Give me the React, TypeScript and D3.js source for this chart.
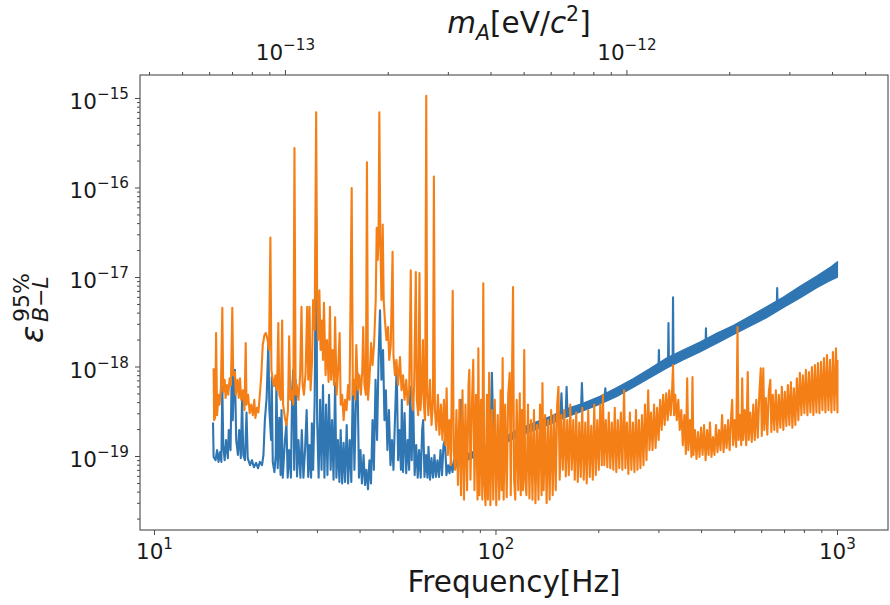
import React, { useEffect, useRef } from "react";
import * as d3 from "d3";

const W = 890;
const H = 605;
const FONT = "DejaVu Sans, Verdana, sans-serif";
const H_EV = 4.135667e-15; // Planck constant in eV s, m_A c^2 = h f

const BLUE = "#2f76b3";
const ORANGE = "#f57f17";

// tick positions / labels
const xMajorTicks = [10, 100, 1000];
const xTickExp = ["1", "2", "3"];
const yMajorTicks = [1e-15, 1e-16, 1e-17, 1e-18, 1e-19];
const yTickExp = ["\u221215", "\u221216", "\u221217", "\u221218", "\u221219"];
const mMajorTicks = [1e-13, 1e-12];
const mTickExp = ["\u221213", "\u221212"];

// blue curve (15 Hz .. 1 kHz)
const blueLine: [number, number][] = [
  [14.84, 2.4e-19], [14.9, 9.9e-20], [15.1, 9.1e-20], [15.25, 1.18e-19], [15.4, 8.7e-20], [15.55, 1.12e-19], [15.7, 8.7e-20], [15.8, 6.0e-19], [15.9, 1.34e-19], [16.05, 9.1e-20],
  [16.2, 1.53e-19], [16.4, 9.6e-20], [16.5, 1.98e-19], [16.7, 1.18e-19], [16.85, 1.11e-18], [16.95, 2.55e-19], [17.1, 7.2e-19], [17.2, 9.3e-19], [17.35, 1.53e-19], [17.55, 1.04e-19],
  [17.7, 1.98e-19], [17.9, 9.6e-20], [18.05, 4.6e-19], [18.2, 1.04e-19], [18.4, 9.1e-20], [18.6, 3.1e-19], [18.75, 9.6e-20], [19.05, 8.0e-20], [19.3, 9.1e-20], [19.55, 7.6e-20],
  [19.85, 8.5e-20], [20.1, 7.4e-20], [20.35, 8.7e-20], [20.65, 8.0e-20], [20.85, 1.04e-19], [21.05, 2.55e-19], [21.3, 4.5e-19], [21.55, 1.85e-18], [21.7, 3.3e-19], [21.95, 1.53e-19],
  [22.05, 7.7e-19], [22.2, 8.7e-20], [22.45, 6.7e-20], [22.65, 1.04e-19], [22.75, 7.2e-19], [22.95, 7.4e-20], [23.2, 2.7e-19], [23.4, 6.2e-20], [23.55, 3.3e-19], [23.75, 5.8e-20],
  [24.1, 1.53e-19], [24.35, 2.35e-19], [24.55, 5.8e-20], [24.8, 1.18e-19], [25.1, 5.8e-20], [25.3, 5.5e-19], [25.5, 9.3e-19], [25.65, 7.1e-20], [25.9, 7.2e-19], [26.15, 6.0e-20],
  [26.4, 1.53e-19], [26.75, 5.8e-20], [27.0, 1.98e-19], [27.3, 5.8e-20], [27.6, 1.18e-19], [27.9, 3.3e-19], [28.2, 5.9e-20], [28.45, 1.34e-19], [28.75, 5.8e-20], [28.9, 2.35e-19],
  [29.15, 7.1e-20], [29.45, 4.3e-19], [29.75, 4.8e-17], [29.95, 2.55e-19], [30.25, 5.8e-20], [30.55, 4.3e-19], [30.85, 7.1e-20], [31.15, 6.3e-19], [31.45, 5.8e-20], [31.8, 3.8e-19],
  [32.1, 6.2e-20], [32.45, 4.9e-19], [32.8, 7.1e-20], [33.1, 2.55e-19], [33.45, 5.5e-20], [33.8, 6.6e-19], [34.1, 5.8e-20], [34.45, 1.53e-19], [34.8, 5.2e-20], [35.1, 1.98e-19],
  [35.45, 5.0e-20], [35.8, 1.42e-19], [36.15, 5.2e-20], [36.55, 2.25e-19], [36.9, 5.0e-20], [37.3, 1.53e-19], [37.7, 5.2e-20], [38.1, 7.2e-19], [38.5, 7.1e-20], [38.9, 4.3e-19],
  [39.3, 8.6e-19], [39.7, 5.8e-20], [40.1, 1.18e-19], [40.5, 5.0e-20], [40.95, 1.04e-19], [41.35, 4.8e-20], [41.75, 7.1e-20], [42.2, 4.3e-20], [42.6, 9.1e-20], [43.05, 5.0e-20],
  [43.5, 2.55e-19], [43.9, 7.1e-20], [44.4, 7.2e-19], [44.85, 1.53e-19], [45.3, 1.2e-18], [45.75, 4.3e-18], [46.2, 7.2e-19], [46.7, 1.55e-18], [47.15, 2.55e-19], [47.6, 5.5e-19],
  [48.1, 1.18e-19], [48.6, 3.3e-19], [49.1, 8.0e-20], [49.6, 1.53e-19], [50.1, 7.1e-20], [50.6, 2.55e-19], [51.2, 1.0e-18], [51.7, 9.1e-20], [52.2, 1.98e-19], [52.7, 7.1e-20],
  [53.0, 4.3e-19], [53.45, 6.7e-20], [54.0, 3.05e-19], [54.6, 6.5e-20], [55.15, 1.53e-19], [55.7, 7.1e-20], [56.1, 6.0e-19], [56.65, 9.1e-20], [57.2, 4.3e-19], [57.8, 6.2e-20],
  [58.4, 1.34e-19], [59.0, 5.8e-20], [59.55, 1.18e-19], [60.2, 5.8e-20], [60.8, 1.98e-19], [61.2, 2.55e-19], [61.75, 5.9e-20], [62.4, 1.04e-19], [63.0, 5.8e-20], [63.45, 1.28e-19],
  [64.1, 5.5e-20], [64.75, 9.6e-20], [65.4, 5.8e-20], [66.05, 1.04e-19], [66.7, 5.9e-20], [67.4, 9.1e-20], [68.1, 5.9e-20], [68.8, 1.18e-19], [69.5, 6.2e-20], [70.2, 1.34e-19],
  [70.9, 1.53e-19], [71.6, 6.2e-20], [72.4, 8.0e-20], [73.1, 6.5e-20], [73.8, 8.7e-20], [74.6, 6.7e-20], [75.3, 9.1e-20], [76.1, 7.4e-20], [76.9, 9.6e-20], [77.7, 7.8e-20],
  [78.5, 1.04e-19], [79.0, 4.3e-19], [79.6, 8.7e-20],
  [84.0, 1.0e-19], [89.8, 1.12e-19], [96.1, 1.28e-19], [97.3, 8.6e-19], [98.5, 1.3e-19], [102.7, 1.45e-19], [104.0, 1.83e-19], [105.5, 1.5e-19], [109.9, 1.65e-19], [117.6, 1.9e-19],
  [128.0, 2.1e-19], [143.9, 2.55e-19], [154.5, 2.85e-19], [155.5, 5.1e-19], [156.5, 2.9e-19], [160.0, 3.0e-19], [161.0, 6.0e-19], [162.0, 3.05e-19], [177.5, 3.5e-19], [178.5, 6.6e-19],
  [179.5, 3.55e-19], [201.6, 4.3e-19], [208.0, 4.5e-19], [209.0, 5.8e-19], [210.0, 4.55e-19], [226.0, 5.3e-19], [252.0, 6.6e-19], [282.5, 8.6e-19], [299.0, 9.5e-19], [300.0, 1.55e-18],
  [301.0, 9.7e-19], [316.0, 1.1e-18], [319.0, 1.12e-18], [320.0, 3.1e-18], [321.0, 1.13e-18], [329.0, 1.18e-18], [330.0, 6.0e-18], [331.0, 1.19e-18], [353.0, 1.36e-18], [395.7, 1.67e-18],
  [411.0, 1.8e-18], [412.0, 2.7e-18], [413.0, 1.82e-18], [444.0, 2.1e-18], [495.0, 2.6e-18], [554.0, 3.2e-18], [620.0, 4.0e-18], [664.0, 4.5e-18], [666.0, 7.6e-18], [668.0, 4.6e-18],
  [693.0, 5.2e-18], [777.0, 6.8e-18], [870.0, 8.9e-18], [950.0, 1.1e-17], [1000, 1.22e-17],
];

// spread of the dense blue trace above ~80 Hz: [freq, low, high]
const blueBand: [number, number, number][] = [
  [78.5, 8.5e-20, 9.9e-20], [84.0, 9.4e-20, 1.1e-19], [89.8, 1.04e-19, 1.21e-19], [96.1, 1.17e-19, 1.38e-19], [102.7, 1.32e-19, 1.58e-19],
  [109.9, 1.51e-19, 1.8e-19], [117.6, 1.73e-19, 2.07e-19], [128, 1.93e-19, 2.35e-19], [143.9, 2.3e-19, 2.8e-19], [160.5, 2.75e-19, 3.4e-19],
  [179, 3.2e-19, 3.9e-19], [201.6, 3.85e-19, 4.7e-19], [226, 4.7e-19, 5.9e-19], [252, 5.9e-19, 7.4e-19], [282.5, 7.6e-19, 9.6e-19],
  [316, 9.7e-19, 1.26e-18], [353, 1.2e-18, 1.55e-18], [395.7, 1.47e-18, 1.9e-18], [444, 1.85e-18, 2.4e-18], [495, 2.3e-18, 2.9e-18],
  [554, 2.85e-18, 3.7e-18], [620, 3.55e-18, 4.7e-18], [693, 4.6e-18, 6.0e-18], [777, 5.9e-18, 8.0e-18], [870, 7.7e-18, 1.04e-17],
  [950, 9.2e-18, 1.29e-17], [1000, 1.01e-17, 1.5e-17],
];

// orange curve (15 Hz .. 1 kHz)
const orangeLine: [number, number][] = [
  [14.9, 9.7e-19], [14.95, 2.55e-19], [15.05, 2.7e-19], [15.15, 2.4e-18], [15.25, 2.9e-19], [15.4, 4.9e-19], [15.5, 3.8e-19], [15.65, 5.8e-19], [15.8, 4.6e-18], [15.9, 5.3e-19],
  [16.05, 7.2e-19], [16.15, 4.5e-19], [16.3, 6.3e-19], [16.45, 4.9e-19], [16.6, 7.5e-19], [16.75, 6.3e-19], [16.9, 4.6e-18], [17.0, 8.1e-19], [17.2, 8.8e-19], [17.3, 4.9e-19],
  [17.5, 7.2e-19], [17.65, 4.5e-19], [17.8, 7.5e-19], [17.95, 4.3e-19], [18.15, 5.5e-19], [18.35, 3.3e-19], [18.5, 1.85e-18], [18.6, 3.8e-19], [18.8, 4.9e-19], [19.0, 3.05e-19],
  [19.2, 3.8e-19], [19.4, 2.9e-19], [19.6, 4.3e-19], [19.75, 2.7e-19], [19.95, 3.5e-19], [20.15, 3.1e-19], [20.35, 4.9e-19], [20.55, 8.1e-19], [20.75, 1.76e-18], [21.0, 2.3e-18],
  [21.2, 2.4e-18], [21.45, 2.0e-18], [21.65, 1.55e-18], [21.85, 2.8e-17], [22.0, 9.3e-19], [22.2, 7.2e-19], [22.4, 6.1e-19], [22.6, 8.1e-19], [22.85, 5.5e-19], [23.05, 3.1e-18],
  [23.2, 4.9e-19], [23.45, 4.3e-19], [23.65, 3.3e-18], [23.8, 3.8e-19], [24.1, 2.7e-19], [24.35, 2.25e-19], [24.6, 3.3e-19], [24.8, 2.2e-18], [25.0, 4.3e-19], [25.25, 5.5e-19],
  [25.5, 3.8e-19], [25.7, 2.8e-16], [25.9, 4.9e-19], [26.1, 6.3e-19], [26.4, 4.3e-19], [26.7, 8.1e-19], [26.95, 4.7e-18], [27.15, 6.3e-19], [27.4, 4.9e-19], [27.7, 8.6e-19],
  [28.0, 4.7e-18], [28.2, 7.2e-19], [28.45, 4.7e-18], [28.65, 5.5e-19], [28.95, 1.2e-18], [29.15, 5.6e-18], [29.45, 2.6e-18], [29.75, 7.0e-16], [29.95, 5.6e-18], [30.15, 2.0e-18],
  [30.4, 7.2e-18], [30.65, 1.55e-18], [30.95, 3.3e-18], [31.15, 1.2e-18], [31.35, 5.2e-18], [31.7, 8.1e-19], [32.0, 2.0e-18], [32.35, 6.8e-19], [32.65, 4.7e-18], [32.9, 7.2e-19],
  [33.25, 1.55e-18], [33.55, 6.3e-19], [33.8, 3.6e-18], [34.15, 4.9e-19], [34.5, 9.3e-19], [34.85, 2.4e-18], [35.1, 3.8e-19], [35.45, 4.9e-19], [35.8, 2.55e-19], [36.15, 4.3e-19],
  [36.5, 3.3e-19], [36.9, 6.3e-19], [37.25, 4.3e-19], [37.8, 1.0e-16], [38.1, 4.9e-19], [38.45, 7.2e-19], [38.7, 4.3e-19], [39.0, 1.76e-18], [39.4, 5.5e-19], [39.8, 8.1e-19],
  [40.2, 4.9e-19], [40.6, 9.3e-19], [40.85, 2.8e-18], [41.2, 6.3e-19], [41.6, 4.9e-19], [41.9, 1.94e-16], [42.2, 4.3e-19], [42.6, 7.2e-19], [43.1, 1.85e-18], [43.5, 1.05e-18],
  [43.95, 1.76e-18], [44.45, 5.6e-18], [44.75, 3.6e-17], [45.05, 1.57e-17], [45.3, 2.6e-17], [45.55, 7.0e-16], [45.85, 2.6e-17], [46.2, 5.6e-18], [46.6, 3.9e-17], [46.9, 5.6e-18],
  [47.3, 3.3e-18], [47.8, 2.0e-18], [48.3, 2.8e-18], [48.7, 1.2e-18], [49.2, 1.76e-18], [49.8, 1.94e-17], [50.1, 1.36e-18], [50.6, 8.1e-19], [51.1, 1.2e-18], [51.7, 6.3e-19],
  [52.35, 1.29e-18], [52.9, 5.5e-19], [53.45, 8.1e-19], [54.0, 4.3e-19], [54.6, 7.2e-19], [55.15, 3.8e-19], [55.7, 5.5e-19], [56.3, 1.2e-17], [56.7, 4.9e-19], [57.2, 3.3e-19],
  [57.6, 6.3e-19], [58.25, 1.15e-17], [58.65, 4.3e-19], [59.2, 2.9e-19], [59.7, 1.12e-17], [60.1, 3.3e-19], [60.6, 5.5e-19], [61.1, 2.0e-18], [61.5, 3.8e-19], [62.0, 2.55e-19],
  [62.5, 1.07e-15], [62.9, 4.9e-19], [63.4, 2.9e-19], [64.1, 7.2e-19], [64.75, 2.25e-19], [65.4, 4.3e-19], [65.8, 1.34e-16], [66.25, 3.3e-19], [66.9, 1.98e-19], [67.6, 4.9e-19],
  [68.3, 1.75e-19], [69.0, 3.8e-19], [69.7, 1.53e-19], [70.4, 4.3e-19], [71.1, 1.34e-19], [71.7, 5.8e-19], [72.3, 1.04e-19], [73.05, 2.55e-19], [73.8, 8.0e-20], [74.7, 7.1e-18],
  [75.2, 1.18e-19], [75.9, 7.1e-20], [76.6, 3.3e-19], [77.4, 4.8e-20], [78.2, 4.3e-19], [79.0, 3.7e-20], [79.8, 5.5e-19], [80.6, 3.3e-20], [81.4, 3.8e-19], [82.3, 4.2e-20],
  [83.1, 6.3e-19], [83.55, 9.3e-19], [84.2, 5.5e-20], [85.1, 4.3e-19], [85.8, 1.2e-18], [86.5, 4.2e-20], [87.4, 4.9e-19], [88.3, 3.3e-20], [88.8, 1.62e-18], [89.5, 3.7e-20],
  [90.4, 4.3e-19], [91.2, 3.3e-20], [91.8, 8.6e-18], [92.4, 5.5e-20], [93.2, 2.85e-20], [94.1, 4.9e-19], [94.7, 3.3e-20], [95.5, 8.6e-19], [96.3, 2.85e-20], [97.3, 3.3e-19],
  [98.2, 3.3e-20], [99.2, 4.3e-19], [100.2, 2.85e-20], [101.2, 2.9e-19], [102.2, 3.3e-20], [103.2, 5.5e-19], [103.9, 4.2e-20], [104.6, 1.26e-18], [105.3, 3.3e-20], [106.4, 3.8e-19],
  [107.5, 3.5e-20], [108.6, 4.9e-19], [109.7, 8.6e-19], [110.5, 3.7e-20], [111.2, 4.3e-19], [112.2, 7.8e-18], [113.0, 5.5e-20], [113.9, 3.3e-20], [115.0, 4.3e-19], [116.2, 4.2e-20],
  [117.4, 5.1e-19], [118.2, 3.7e-20], [119.2, 3.3e-19], [120.0, 4.2e-20], [121.0, 1.55e-18], [121.8, 5.5e-20], [122.8, 3.7e-20], [124.1, 3.8e-19], [125.3, 3.4e-20], [126.6, 2.55e-19],
  [127.9, 3.3e-20], [129.2, 3.3e-19], [130.5, 3.0e-20], [131.9, 2.25e-19], [133.2, 3.3e-20], [134.6, 3.8e-19], [136.0, 3.7e-20], [136.8, 6.6e-19], [137.9, 4.2e-20], [139.3, 2.9e-19],
  [140.7, 3.0e-20], [142.2, 2.55e-19], [143.6, 3.3e-20], [145.1, 3.3e-19], [146.6, 3.7e-20], [148.1, 2.9e-19], [149.6, 4.2e-20], [151.1, 3.8e-19], [152.4, 6.0e-19], [153.7, 5.5e-20],
  [155.3, 2.9e-19], [156.9, 7.1e-20], [158.5, 3.3e-19], [160.1, 6.0e-20], [161.7, 2.55e-19], [163.4, 6.2e-20], [165.0, 3.8e-19], [166.7, 7.1e-20], [168.4, 2.55e-19], [170.1, 5.5e-20],
  [171.8, 3.1e-19], [173.6, 5.2e-20], [175.4, 2.4e-19], [177.1, 5.9e-20], [178.9, 3.5e-19], [180.7, 5.5e-20], [182.6, 2.4e-19], [184.4, 5.0e-20], [186.3, 3.3e-19], [188.2, 5.9e-20],
  [190.1, 2.2e-19], [192.1, 5.5e-20], [194.0, 3.8e-19], [196.0, 6.2e-20], [198.0, 2.55e-19], [200.0, 7.1e-20], [202.0, 3.8e-19], [204.1, 8.0e-20], [205.7, 4.9e-19], [207.6, 8.0e-20],
  [209.7, 2.55e-19], [211.9, 7.6e-20], [214.0, 3.1e-19], [216.2, 7.4e-20], [218.4, 2.4e-19], [220.6, 7.1e-20], [222.8, 3.5e-19], [225.1, 6.7e-20], [227.4, 2.55e-19], [229.7, 7.4e-20],
  [232.1, 3.1e-19], [234.5, 7.1e-20], [237.2, 5.5e-19], [239.3, 7.4e-20], [241.8, 2.4e-19], [244.2, 6.4e-20], [246.7, 3.1e-19], [249.2, 7.1e-20], [251.8, 2.4e-19], [254.4, 6.7e-20],
  [257.0, 3.3e-19], [259.6, 7.1e-20], [262.2, 2.55e-19], [264.9, 7.4e-20], [267.6, 2.9e-19], [270.4, 8.0e-20], [273.1, 3.8e-19], [275.9, 9.1e-20], [279.1, 5.5e-19], [281.6, 1.18e-19],
  [284.5, 3.1e-19], [287.4, 1.18e-19], [290.4, 3.8e-19], [293.4, 1.25e-19], [296.4, 3.5e-19], [299.4, 1.53e-19], [302.5, 4.3e-19], [305.6, 1.98e-19], [308.7, 4.9e-19], [311.9, 2.25e-19],
  [315.1, 5.1e-19], [318.3, 2.55e-19], [321.6, 5.5e-19], [324.9, 2.9e-19], [327.1, 4.3e-19], [330.0, 1.05e-18], [332.3, 2.9e-19], [335.0, 4.9e-19], [338.4, 2.55e-19], [341.9, 4.3e-19],
  [345.3, 1.98e-19], [348.9, 3.3e-19], [352.5, 1.34e-19], [356.1, 2.9e-19], [359.8, 1.07e-19], [363.0, 7.5e-19], [365.8, 1.18e-19], [369.9, 2.55e-19], [373.6, 9.9e-20], [376.2, 7.7e-19],
  [378.7, 1.04e-19], [382.6, 1.98e-19], [386.5, 9.4e-20], [390.5, 1.88e-19], [394.5, 9.9e-20], [398.6, 2.1e-19], [402.7, 1.04e-19], [406.8, 2.25e-19], [411.0, 9.1e-20], [415.2, 1.98e-19],
  [419.4, 1.04e-19], [423.2, 2.4e-19], [427.6, 9.9e-20], [432.0, 1.65e-19], [436.4, 1.04e-19], [440.9, 2.25e-19], [445.4, 1.12e-19], [450.0, 1.98e-19], [454.6, 1.18e-19], [459.3, 2.9e-19],
  [464.0, 1.12e-19], [468.8, 2.25e-19], [473.6, 1.25e-19], [478.5, 2.55e-19], [483.4, 1.18e-19], [488.4, 2.9e-19], [491.7, 4.3e-19], [495.0, 1.34e-19], [500.1, 2.55e-19], [505.2, 1.28e-19],
  [509.7, 2.8e-18], [513.2, 1.53e-19], [517.4, 2.9e-19], [522.6, 1.34e-19], [526.1, 7.5e-19], [529.7, 1.53e-19], [535.1, 3.3e-19], [540.6, 1.34e-19], [546.1, 8.8e-19], [549.8, 1.53e-19],
  [555.4, 3.1e-19], [561.1, 1.45e-19], [566.8, 3.8e-19], [572.6, 1.53e-19], [578.4, 4.3e-19], [584.3, 1.62e-19], [590.3, 4.9e-19], [596.3, 9.7e-19], [600.4, 1.7e-19], [606.5, 9.7e-19],
  [610.6, 1.98e-19], [616.9, 4.5e-19], [623.1, 1.75e-19], [629.5, 5.3e-19], [635.9, 7.2e-19], [640.2, 1.88e-19], [646.7, 4.9e-19], [653.3, 1.98e-19], [660.0, 5.5e-19], [666.7, 1.88e-19],
  [673.5, 4.9e-19], [680.4, 2.1e-19], [687.3, 6.0e-19], [694.3, 1.98e-19], [701.4, 5.3e-19], [708.5, 2.2e-19], [715.7, 6.3e-19], [723.0, 2.25e-19], [730.4, 6.8e-19], [737.8, 2.1e-19],
  [745.3, 5.8e-19], [752.9, 2.25e-19], [760.6, 7.5e-19], [768.3, 2.55e-19], [776.1, 8.6e-19], [784.0, 2.9e-19], [792.0, 8.1e-19], [800.1, 3.05e-19], [808.2, 9.3e-19], [816.5, 2.9e-19],
  [824.8, 8.8e-19], [833.2, 3.1e-19], [841.7, 1.0e-18], [850.3, 2.9e-19], [858.9, 1.05e-18], [867.7, 3.1e-19], [876.5, 1.11e-18], [885.5, 3.05e-19], [894.5, 1.14e-18], [903.6, 3.3e-19],
  [912.8, 1.26e-18], [922.1, 3.1e-19], [931.5, 1.36e-18], [941.0, 3.3e-19], [950.6, 1.2e-18], [960.3, 3.1e-19], [970.1, 1.47e-18], [980.0, 3.3e-19], [990.0, 1.62e-18], [1000, 3.1e-19],
  [1000, 1.2e-18],
];

function minorTicks(lo: number, hi: number, from: number, to: number) {
  const out: number[] = [];
  for (let e = from; e <= to; e++)
    for (let m = 2; m <= 9; m++) {
      const v = m * Math.pow(10, e);
      if (v > lo && v < hi) out.push(v);
    }
  return out;
}

export default function App() {
  const ref = useRef<SVGSVGElement>(null);

  useEffect(() => {
    const svg = d3.select(ref.current);
    svg.selectAll("*").remove();

    const left = 140, right = 888, top = 75, bottom = 530;
    const fLo = 9.07, fHi = 1406;
    const x = d3.scaleLog().domain([fLo, fHi]).range([left, right]);
    const y = d3.scaleLog().domain([1.51e-20, 1.83e-15]).range([bottom, top]);
    const xm = d3.scaleLog().domain([fLo * H_EV, fHi * H_EV]).range([left, right]);

    svg.append("rect").attr("width", W).attr("height", H).attr("fill", "#fff");

    svg.append("defs").append("clipPath").attr("id", "plotclip")
      .append("rect").attr("x", left).attr("y", top).attr("width", right - left).attr("height", bottom - top);

    const plot = svg.append("g").attr("clip-path", "url(#plotclip)");

    // blue band + line
    const band = d3.area<[number, number, number]>()
      .x(d => x(d[0]))
      .y0(d => y(d[1]))
      .y1(d => y(d[2]));
    plot.append("path").datum(blueBand).attr("d", band)
      .attr("fill", BLUE).attr("stroke", BLUE).attr("stroke-width", 1.2).attr("stroke-linejoin", "round");

    const line = d3.line<[number, number]>().x(d => x(d[0])).y(d => y(d[1]));
    plot.append("path").datum(blueLine).attr("d", line)
      .attr("fill", "none").attr("stroke", BLUE).attr("stroke-width", 2.1).attr("stroke-linejoin", "round");

    plot.append("path").datum(orangeLine).attr("d", line)
      .attr("fill", "none").attr("stroke", ORANGE).attr("stroke-width", 2.1).attr("stroke-linejoin", "round");

    // frame
    const axisColor = "#4a4a4a";
    svg.append("rect").attr("x", left).attr("y", top).attr("width", right - left).attr("height", bottom - top)
      .attr("fill", "none").attr("stroke", axisColor).attr("stroke-width", 1.1);

    const ticks = svg.append("g").attr("stroke", axisColor).attr("stroke-width", 1);

    // bottom x ticks
    xMajorTicks.forEach(t => {
      ticks.append("line").attr("x1", x(t)).attr("x2", x(t)).attr("y1", bottom).attr("y2", bottom + 5);
    });
    minorTicks(fLo, fHi, 0, 3).forEach(t => {
      ticks.append("line").attr("x1", x(t)).attr("x2", x(t)).attr("y1", bottom).attr("y2", bottom + 3);
    });
    // left y ticks
    yMajorTicks.forEach(t => {
      ticks.append("line").attr("x1", left - 5).attr("x2", left).attr("y1", y(t)).attr("y2", y(t));
    });
    minorTicks(1.51e-20, 1.83e-15, -20, -15).forEach(t => {
      ticks.append("line").attr("x1", left - 3).attr("x2", left).attr("y1", y(t)).attr("y2", y(t));
    });
    // top mass ticks
    mMajorTicks.forEach(t => {
      ticks.append("line").attr("x1", xm(t)).attr("x2", xm(t)).attr("y1", top).attr("y2", top - 5);
    });
    minorTicks(fLo * H_EV, fHi * H_EV, -14, -12).forEach(t => {
      ticks.append("line").attr("x1", xm(t)).attr("x2", xm(t)).attr("y1", top).attr("y2", top - 3);
    });

    const tickFont = 21.5, supFont = 15.2;
    const pow10 = (g: any, exp: string) => {
      g.append("tspan").text("10");
      g.append("tspan").attr("dy", -10).attr("font-size", supFont).text(exp);
    };

    xMajorTicks.forEach((t, i) => {
      const tx = svg.append("text").attr("x", x(t)).attr("y", 559)
        .attr("text-anchor", "middle").attr("font-family", FONT).attr("font-size", tickFont).attr("fill", "#1a1a1a");
      pow10(tx, xTickExp[i]);
    });
    yMajorTicks.forEach((t, i) => {
      const tx = svg.append("text").attr("x", 129).attr("y", y(t) + 10.5)
        .attr("text-anchor", "end").attr("font-family", FONT).attr("font-size", tickFont).attr("fill", "#1a1a1a");
      pow10(tx, yTickExp[i]);
    });
    mMajorTicks.forEach((t, i) => {
      const tx = svg.append("text").attr("x", xm(t)).attr("y", 60)
        .attr("text-anchor", "middle").attr("font-family", FONT).attr("font-size", tickFont).attr("fill", "#1a1a1a");
      pow10(tx, mTickExp[i]);
    });

    // axis labels
    svg.append("text").attr("x", 514).attr("y", 592).attr("text-anchor", "middle")
      .attr("font-family", FONT).attr("font-size", 29.5).attr("fill", "#1a1a1a").text("Frequency[Hz]");

    const mt = svg.append("text").attr("x", 519).attr("y", 33).attr("text-anchor", "middle")
      .attr("font-family", FONT).attr("font-size", 29.5).attr("fill", "#1a1a1a");
    mt.append("tspan").attr("font-style", "italic").text("m");
    mt.append("tspan").attr("font-style", "italic").attr("font-size", 20.5).attr("dy", 7).text("A");
    mt.append("tspan").attr("dy", -7).text("[eV/");
    mt.append("tspan").attr("font-style", "italic").text("c");
    mt.append("tspan").attr("font-size", 20.5).attr("dy", -12).text("2");
    mt.append("tspan").attr("dy", 12).text("]");

    const yl = svg.append("g").attr("transform", "translate(43, 343) rotate(-90)")
      .attr("font-family", FONT).attr("fill", "#1a1a1a");
    yl.append("text").attr("x", 0).attr("y", 0).attr("font-size", 32).attr("font-style", "italic").text("\u03b5");
    yl.append("text").attr("x", 21).attr("y", -14).attr("font-size", 22).text("95%");
    const sub = yl.append("text").attr("x", 21).attr("y", 5).attr("font-size", 22);
    sub.append("tspan").attr("font-style", "italic").text("B");
    sub.append("tspan").text("\u2212");
    sub.append("tspan").attr("font-style", "italic").text("L");
  }, []);

  return (
    <svg ref={ref} width={W} height={H} style={{ position: "absolute", left: 0, top: 0 }} />
  );
}
